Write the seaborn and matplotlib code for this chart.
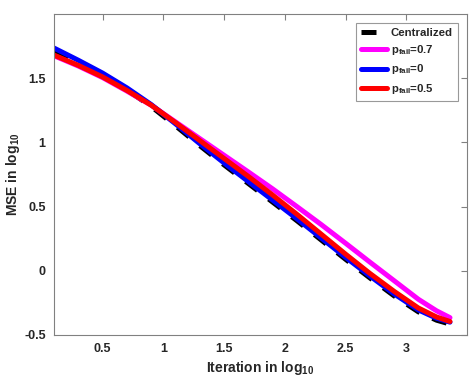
import matplotlib
matplotlib.use('Agg')
import matplotlib.pyplot as plt
import seaborn as sns

# iteration (log10) and MSE (log10)
iters = [0.1, 0.3, 0.5, 0.7, 0.9, 1.1, 1.3, 1.5, 1.7, 1.9, 2.1, 2.3, 2.5, 2.7, 2.9, 3.1, 3.25, 3.36]
mse_central = [1.70, 1.615, 1.52, 1.41, 1.28, 1.13, 0.975, 0.825, 0.68, 0.535, 0.39, 0.24, 0.09,
               -0.055, -0.195, -0.32, -0.385, -0.415]
mse_p07 = [1.675, 1.595, 1.505, 1.40, 1.29, 1.16, 1.03, 0.90, 0.77, 0.638, 0.50, 0.36, 0.215,
           0.068, -0.077, -0.222, -0.312, -0.365]
mse_p0 = [1.735, 1.64, 1.54, 1.425, 1.295, 1.145, 0.99, 0.84, 0.695, 0.55, 0.405, 0.255, 0.105,
          -0.04, -0.18, -0.305, -0.37, -0.40]
mse_p05 = [1.68, 1.60, 1.51, 1.405, 1.29, 1.155, 1.015, 0.875, 0.735, 0.59, 0.44, 0.285, 0.13,
           -0.02, -0.16, -0.29, -0.36, -0.395]

x_ticks = [0.5, 1, 1.5, 2, 2.5, 3]
y_ticks = [-0.5, 0, 0.5, 1, 1.5]

sns.set_style('white')
plt.rcParams['font.family'] = ['Liberation Sans', 'DejaVu Sans']
plt.rcParams['font.weight'] = 'bold'
plt.rcParams['mathtext.fontset'] = 'custom'
plt.rcParams['mathtext.bf'] = 'Liberation Sans:bold'
plt.rcParams['mathtext.rm'] = 'Liberation Sans:bold'

fig = plt.figure(figsize=(4.71, 3.87), dpi=100)
ax = fig.add_axes([0.1146, 0.1344, 0.8769, 0.8294])

lw = 3.6
sns.lineplot(x=iters, y=mse_central, ax=ax, color='black', lw=lw, linestyle=(0, (3, 2.8)),
             label='Centralized')
sns.lineplot(x=iters, y=mse_p07, ax=ax, color='#ff00ff', lw=lw, label=r'$\mathbf{p_{fail}}$=0.7')
sns.lineplot(x=iters, y=mse_p0, ax=ax, color='#0000ff', lw=lw, label=r'$\mathbf{p_{fail}}$=0')
sns.lineplot(x=iters, y=mse_p05, ax=ax, color='#ff0000', lw=lw, label=r'$\mathbf{p_{fail}}$=0.5')

ax.set_xlim(0.1, 3.5)
ax.set_ylim(-0.5, 2)
ax.set_xticks(x_ticks)
ax.set_xticklabels(['0.5', '1', '1.5', '2', '2.5', '3'])
ax.set_yticks(y_ticks)
ax.set_yticklabels(['-0.5', '0', '0.5', '1', '1.5'])
ax.tick_params(direction='in', length=4, width=0.8, color='#808080', labelsize=9,
               top=True, right=True, pad=6)
for lab in ax.get_xticklabels() + ax.get_yticklabels():
    lab.set_fontweight('bold')
for sp in ax.spines.values():
    sp.set_color('#808080')
    sp.set_linewidth(0.8)

ax.set_xlabel(r'Iteration in log$_{\mathbf{10}}$', fontsize=10, fontweight='bold', labelpad=3)
ax.set_ylabel(r'MSE in log$_{\mathbf{10}}$', fontsize=10, fontweight='bold', labelpad=1.5)

leg = ax.legend(loc='upper right', fontsize=8.2, frameon=True, fancybox=False,
                borderaxespad=0.8, handlelength=2.3, handletextpad=0.3, labelspacing=0.45,
                borderpad=0.45)
leg.get_frame().set_edgecolor('#808080')
leg.get_frame().set_linewidth(0.8)
for t in leg.get_texts():
    t.set_fontweight('bold')

fig.savefig('out.png', dpi=100)
